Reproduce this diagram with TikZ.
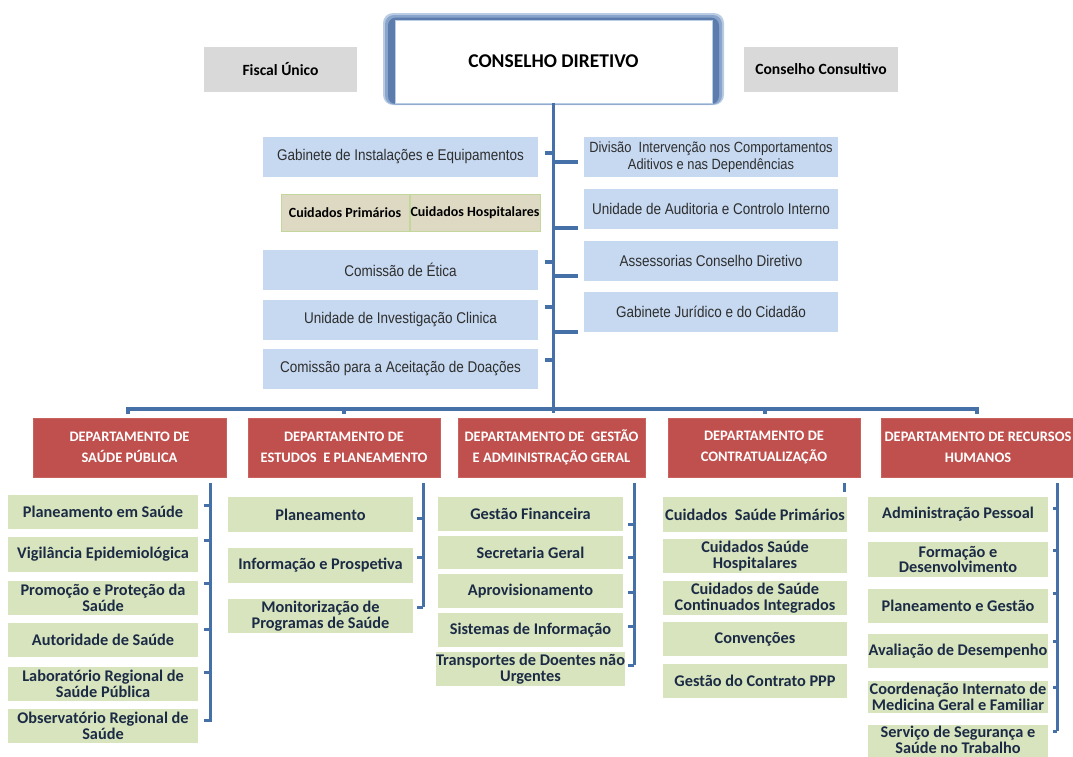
\documentclass[tikz,border=0pt]{standalone}
\usepackage{fontspec}
\setmainfont{Carlito}
\newfontfamily\narrowfont[FakeStretch=0.87]{Liberation Sans}
\definecolor{linec}{HTML}{4670A8}
\definecolor{grayf}{HTML}{D9D9D9}
\definecolor{bluef}{HTML}{C6D9F1}
\definecolor{tanf}{HTML}{DDD9C3}
\definecolor{tand}{HTML}{C3D69B}
\definecolor{redf}{HTML}{C0504D}
\definecolor{redd}{HTML}{C9625F}
\definecolor{greenf}{HTML}{D7E4BD}
\definecolor{greent}{HTML}{1C2B45}
\definecolor{stafft}{HTML}{2E2E2E}
\definecolor{glowa}{HTML}{BACCE3}
\definecolor{glowb}{HTML}{8AA5CB}
\definecolor{glowc}{HTML}{5B7CAD}
\definecolor{whited}{HTML}{B9CDE5}
\tikzset{
  box/.style={inner sep=0pt, align=center, anchor=center},
  graybox/.style={box, fill=grayf, text=black, font=\bfseries\fontsize{15.6}{17}\selectfont},
  staffbox/.style={box, fill=bluef, text=stafft, font=\narrowfont\fontsize{15.5}{18}\selectfont, minimum height=40},
  cuidbox/.style={box, fill=tanf, draw=tand, line width=1pt, text=black, font=\bfseries\fontsize{14}{16}\selectfont, minimum height=37},
  deptbox/.style={box, fill=redf, draw=redd, line width=0.8pt, text=white, font=\bfseries\fontsize{14.5}{21}\selectfont, minimum height=59},
  itembox/.style={box, fill=greenf, text=greent, font=\bfseries\fontsize{16.3}{15.8}\selectfont},
  conn/.style={draw=linec, line width=3.5pt},
  thinconn/.style={draw=linec, line width=3pt},
}
\begin{document}
\begin{tikzpicture}[x=1pt,y=-1pt]
\clip (0,0) rectangle (1073,756);
\fill[white] (0,0) rectangle (1073,756);

% top row
\node[graybox, minimum width=153, minimum height=45] (fiscal) at (280.5,69.5) {Fiscal Único};
\node[graybox, minimum width=154, minimum height=45] (consul) at (821,69.5) {Conselho Consultivo};
\fill[glowa, rounded corners=10] (383,13) rectangle (724,105);
\fill[glowb, rounded corners=9] (385,15) rectangle (722,104.5);
\fill[glowc, rounded corners=8] (388,17.5) rectangle (719,104);
\node[box, fill=white, draw=whited, line width=0.6pt, minimum width=317, minimum height=83,
  font=\bfseries\fontsize{19.5}{21}\selectfont, text=black] (cd) at (553.5,61.5) {CONSELHO DIRETIVO};

% staff boxes left
\node[staffbox, minimum width=275] (gab) at (400.5,157) {Gabinete de Instalações e Equipamentos};
\node[cuidbox, minimum width=128] (cprim) at (345,212.5) {Cuidados Primários};
\node[cuidbox, minimum width=130] (chosp) at (475,212.5) {Cuidados Hospitalares};
\node[staffbox, minimum width=275] (etica) at (400.5,269.5) {Comissão de Ética};
\node[staffbox, minimum width=275] (invest) at (400.5,319.5) {Unidade de Investigação Clinica};
\node[staffbox, minimum width=275] (doac) at (400.5,368.5) {Comissão para a Aceitação de Doações};
% staff boxes right
\node[staffbox, minimum width=254, font=\narrowfont\fontsize{14.8}{17.5}\selectfont] (divi) at (711,157) {Divisão\ \ Intervenção nos Comportamentos\\Aditivos e nas Dependências};
\node[staffbox, minimum width=254] (audit) at (711,208.5) {Unidade de Auditoria e Controlo Interno};
\node[staffbox, minimum width=254] (assess) at (711,260.5) {Assessorias Conselho Diretivo};
\node[staffbox, minimum width=254] (jurid) at (711,312) {Gabinete Jurídico e do Cidadão};

% main trunk and bus
\coordinate (trunkend) at (553.5,413);
\draw[conn] (cd.south) -- (trunkend);
\foreach \yy in {153,262,307,360}{
  \draw[conn] (553.5,\yy) -- (545,\yy);
}
\foreach \yy in {162,228,276,332}{
  \draw[conn] (553.5,\yy) -- (578,\yy);
}
\coordinate (busl) at (128,409);
\coordinate (busr) at (977,409);
\draw[conn, line cap=rect] (busl) -- (busr);
\foreach \xx in {128,344,765,977}{
  \draw[conn] (\xx,409) -- (\xx,414);
}

% departments
\node[deptbox, minimum width=193] (d1) at (129.5,447.5) {DEPARTAMENTO DE\\SAÚDE PÚBLICA};
\node[deptbox, minimum width=192] (d2) at (344,447.5) {DEPARTAMENTO DE\\ESTUDOS\ \ E PLANEAMENTO};
\node[deptbox, minimum width=187] (d3) at (551.5,447.5) {DEPARTAMENTO DE\ \ GESTÃO\\E ADMINISTRAÇÃO GERAL};
\node[deptbox, minimum width=192] (d4) at (764,447.5) {DEPARTAMENTO DE\\CONTRATUALIZAÇÃO};
\node[deptbox, minimum width=194] (d5) at (978,447.5) {DEPARTAMENTO DE RECURSOS\\HUMANOS};

% column 1
\node[itembox, minimum width=190, minimum height=34] (a1) at (103,512) {Planeamento em Saúde};
\node[itembox, minimum width=190, minimum height=35] (a2) at (103,554.5) {Vigilância Epidemiológica};
\node[itembox, minimum width=190, minimum height=34] (a3) at (103,598) {Promoção e Proteção da\\Saúde};
\node[itembox, minimum width=190, minimum height=34] (a4) at (103,640) {Autoridade de Saúde};
\node[itembox, minimum width=190, minimum height=34] (a5) at (103,684) {Laboratório Regional de\\Saúde Pública};
\node[itembox, minimum width=190, minimum height=34] (a6) at (103,726) {Observatório Regional de\\Saúde};
\draw[thinconn] (210,483) -- (210,722);
\foreach \yy in {505,540,583,629,672,720}{ \draw[thinconn] (210,\yy) -- (204,\yy); }

% column 2
\node[itembox, minimum width=185, minimum height=35] (b1) at (320.5,514.5) {Planeamento};
\node[itembox, minimum width=185, minimum height=35] (b2) at (320.5,565.5) {Informação e Prospetiva};
\node[itembox, minimum width=185, minimum height=34] (b3) at (320.5,616) {Monitorização de\\Programas de Saúde};
\draw[thinconn] (423,483) -- (423,607);
\foreach \yy in {518,557,607}{ \draw[thinconn] (423,\yy) -- (417,\yy); }

% column 3
\node[itembox, minimum width=185, minimum height=34] (c1) at (530.5,514) {Gestão Financeira};
\node[itembox, minimum width=185, minimum height=33] (c2) at (530.5,552.5) {Secretaria Geral};
\node[itembox, minimum width=185, minimum height=34] (c3) at (530.5,591) {Aprovisionamento};
\node[itembox, minimum width=185, minimum height=34] (c4) at (530.5,630) {Sistemas de Informação};
\node[itembox, minimum width=185, minimum height=34] (c5) at (530.5,669) {Transportes de Doentes não\\Urgentes};
\draw[thinconn] (634,483) -- (634,665);
\foreach \yy in {524,557,592,626,665}{ \draw[thinconn] (634,\yy) -- (628,\yy); }

% column 4
\node[itembox, minimum width=184, minimum height=35] (e1) at (755,514.5) {Cuidados\ \ Saúde Primários};
\node[itembox, minimum width=184, minimum height=34] (e2) at (755,556) {Cuidados Saúde\\Hospitalares};
\node[itembox, minimum width=184, minimum height=34] (e3) at (755,598) {Cuidados de Saúde\\Continuados Integrados};
\node[itembox, minimum width=184, minimum height=34] (e4) at (755,639) {Convenções};
\node[itembox, minimum width=184, minimum height=34] (e5) at (755,681) {Gestão do Contrato PPP};
\draw[thinconn] (844,483) -- (844,492);

% column 5
\node[itembox, minimum width=180, minimum height=35] (f1) at (958,514.5) {Administração Pessoal};
\node[itembox, minimum width=180, minimum height=35] (f2) at (958,559.5) {Formação e\\Desenvolvimento};
\node[itembox, minimum width=180, minimum height=34] (f3) at (958,606) {Planeamento e Gestão};
\node[itembox, minimum width=180, minimum height=34] (f4) at (958,651) {Avaliação de Desempenho};
\node[itembox, minimum width=180, minimum height=32] (f5) at (958,697) {Coordenação Internato de\\Medicina Geral e Familiar};
\fill[greenf] (868,725) rectangle (1048,760);
\node[itembox, fill=none, minimum width=180] (f6) at (958,740) {Serviço de Segurança e\\Saúde no Trabalho};
\draw[thinconn] (1057,483) -- (1057,731);
\foreach \yy in {508,550,593,641,687,731}{ \draw[thinconn] (1057,\yy) -- (1053,\yy); }
\end{tikzpicture}
\end{document}
